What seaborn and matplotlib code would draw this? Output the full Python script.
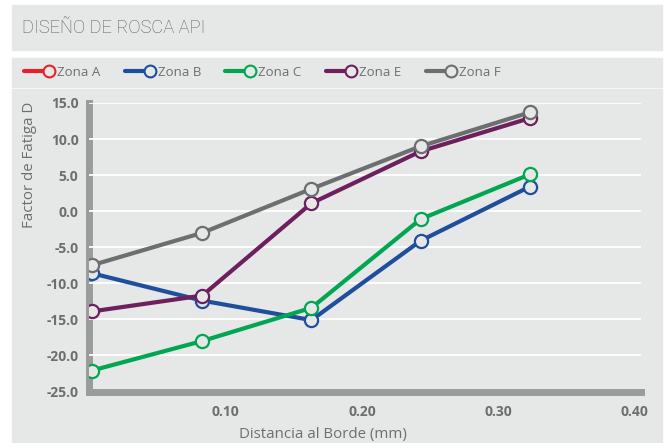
import numpy as np
import pandas as pd
import seaborn as sns
import matplotlib.pyplot as plt
from matplotlib.patches import Rectangle
from matplotlib.lines import Line2D
from matplotlib.legend_handler import HandlerLine2D

# data
distancia = [0.002, 0.083, 0.163, 0.243, 0.323]
zona_a = []  # listed in the legend, no visible points
zona_b = [-8.6, -12.4, -15.1, -4.1, 3.4]
zona_c = [-22.1, -18.0, -13.4, -1.1, 5.1]
zona_e = [-13.9, -11.7, 1.1, 8.3, 12.9]
zona_f = [-7.5, -3.0, 3.1, 9.0, 13.7]

zonas = ["Zona A", "Zona B", "Zona C", "Zona E", "Zona F"]
colores = ["#e8202a", "#1f4e9c", "#00a651", "#6d1f5e", "#6d6e70"]
x_ticks = [0.10, 0.20, 0.30, 0.40]
y_ticks = [-25, -20, -15, -10, -5, 0, 5, 10, 15]

series = {"Zona B": zona_b, "Zona C": zona_c, "Zona E": zona_e, "Zona F": zona_f}
df = pd.concat(
    [pd.DataFrame({"dist": distancia, "factor": v, "zona": k}) for k, v in series.items()],
    ignore_index=True,
)

panel = "#e6e7e7"
texto = "#6d6e70"
barra = "#9b9b9b"


class MarcadorAlFinal(HandlerLine2D):
    # legend line with the circle at its right end
    def create_artists(self, *args, **kwargs):
        arts = super().create_artists(*args, **kwargs)
        for a in arts:
            a.set_markevery([2])
        return arts


sns.set_style("white")
plt.rcParams["font.family"] = ["Open Sans", "DejaVu Sans"]

fig = plt.figure(figsize=(6.7, 4.43), dpi=100)
fig.patch.set_facecolor("white")
W, H = 670, 443
for top, bottom in [(5, 50), (58, 87), (89, 443)]:
    fig.patches.append(Rectangle((12 / W, 1 - bottom / H), 650 / W, (bottom - top) / H,
                                 transform=fig.transFigure, color=panel, zorder=-5))

ax = fig.add_axes([89 / W, 1 - 391.5 / H, 552 / W, 288.5 / H])
ax.set_facecolor(panel)
ax.set_axisbelow(True)

pal = dict(zip(zonas, colores))
sns.lineplot(data=df, x="dist", y="factor", hue="zona", palette=pal,
             marker="o", markersize=9.5, markerfacecolor=panel, markeredgewidth=1.6,
             linewidth=3.0, legend=False, ax=ax, zorder=3)
for ln in ax.lines:
    ln.set_markeredgecolor(ln.get_color())

ax.set_xlim(0, 0.4045)
ax.set_ylim(-25, 15)
ax.set_xticks(x_ticks)
ax.set_xticklabels([f"{v:.2f}" for v in x_ticks])
ax.set_yticks(y_ticks)
ax.set_yticklabels([f"{v:.1f}" for v in y_ticks])
ax.grid(axis="y", color="white", linewidth=1.3)
ax.grid(axis="x", visible=False)
ax.get_ygridlines()[0].set_visible(False)

for s in ["top", "right"]:
    ax.spines[s].set_visible(False)
for s in ["left", "bottom"]:
    ax.spines[s].set_color(barra)
    ax.spines[s].set_linewidth(5.0)
    ax.spines[s].set_zorder(0.4)
    ax.spines[s].set_capstyle("projecting")

ax.tick_params(axis="both", direction="inout", length=10, width=1.3, color="white",
               labelcolor=texto, labelsize=10)
ax.tick_params(axis="x", pad=5)
ax.tick_params(axis="y", pad=2.5)
for lab in ax.get_xticklabels() + ax.get_yticklabels():
    lab.set_fontweight("bold")

ax.set_xlabel("Distancia al Borde (mm)", fontsize=10.8, color=texto)
ax.set_ylabel("Factor de Fatiga D", fontsize=10.8, color=texto)
ax.xaxis.set_label_coords(0.423, -0.122)
ax.yaxis.set_label_coords(-0.094, 0.785)

fig.text(22 / W, 1 - 28 / H, "DISEÑO DE ROSCA API", fontsize=13.2, color="#5a5b5d",
         va="center", ha="left", fontweight="light", family=["Roboto", "DejaVu Sans"])

handles = [Line2D([], [], color=c, linewidth=3.0, marker="o", markersize=8.5,
                  markerfacecolor=panel, markeredgecolor=c, markeredgewidth=1.5)
           for c in colores]
fig.legend(handles, zonas, loc="center left", bbox_to_anchor=(12 / W, 1 - 72.5 / H),
           ncol=5, frameon=False, numpoints=1, handlelength=1.9, handletextpad=0.6,
           columnspacing=1.85, fontsize=9.5, labelcolor=texto,
           handler_map={Line2D: MarcadorAlFinal()})

fig.savefig("out.png", dpi=100, facecolor="white")
